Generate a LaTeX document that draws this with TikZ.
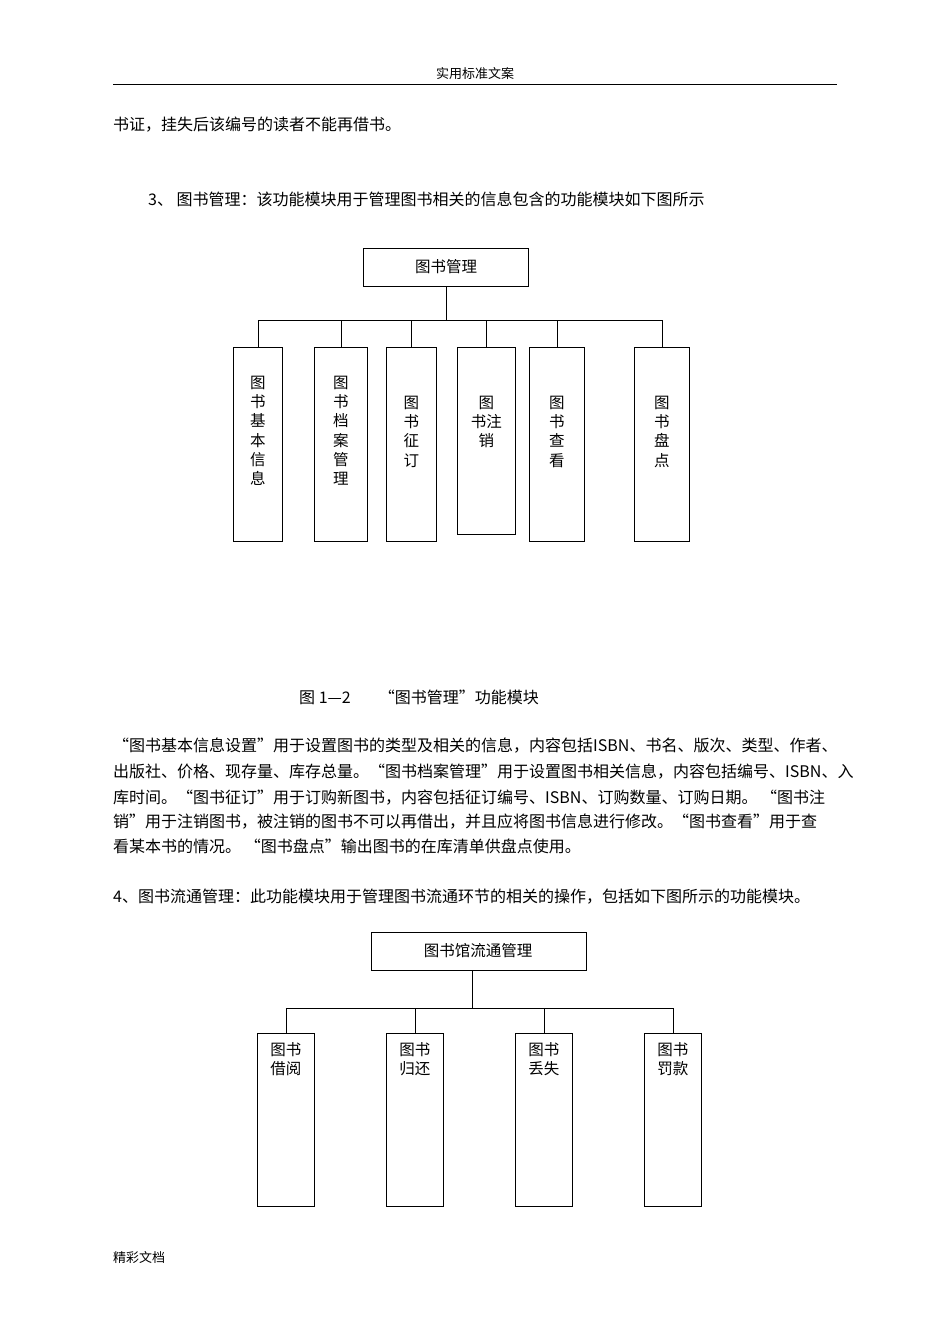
\documentclass[tikz,border=0pt]{standalone}
\usepackage{fontspec}
\setmainfont{Noto Sans CJK SC}
\begin{document}
\begin{tikzpicture}[x=1pt,y=-1pt,
  txt/.style={anchor=west,inner sep=0pt,font=\fontsize{16}{19}\selectfont},
  bx/.style={draw,line width=0.8pt,anchor=north west,inner sep=0pt},
  vt/.style={anchor=north,inner sep=0pt,align=center,font=\fontsize{15.5}{19.2}\selectfont},
  ln/.style={line width=0.8pt}]
\useasboundingbox[fill=white] (0,0) rectangle (950,1344);
\node[inner sep=0pt,font=\fontsize{13}{15}\selectfont] (hdr) at (475,74) {实用标准文案};
\draw[ln] (113,84) -- (837,84);
\node[txt] (t1) at (113,125) {书证，挂失后该编号的读者不能再借书。};
\node[txt] (t2) at (148,199) {3、 图书管理：该功能模块用于管理图书相关的信息包含的功能模块如下图所示};
% tree 1
\node[bx,minimum width=165pt,minimum height=38pt] (r1) at (363,248) {};
\node[vt] at (446,259) {图书管理};
\coordinate (j1) at (446,320);
\draw[ln] (r1.south -| j1) -- (j1);
\foreach \n/\x/\w/\h/\ty/\t in {a/233/49/194/376/{图\\书\\基\\本\\信\\息},
  b/314/53/194/376/{图\\书\\档\\案\\管\\理},
  c/386/50/194/396/{图\\书\\征\\订},
  d/457/58/187/396/{图\\书注\\销},
  e/529/55/194/396/{图\\书\\查\\看},
  f/634/55/194/396/{图\\书\\盘\\点}}{
  \node[bx,minimum width=\w pt,minimum height=\h pt] (\n) at (\x,347) {};
  \node[vt] at (\n.north |- 0,\ty) {\t};
}
\draw[ln] (a.north |- j1) -- (f.north |- j1);
\foreach \n in {a,b,c,d,e,f}{\draw[ln] (\n.north |- j1) -- (\n.north);}
\node[txt] (cap) at (299,697) {图 1—2\hspace{28pt}“图书管理”功能模块};
\node[txt] (p1) at (113,746) {“图书基本信息设置”用于设置图书的类型及相关的信息，内容包括ISBN、书名、版次、类型、作者、};
\node[txt] (p2) at (113,772) {出版社、价格、现存量、库存总量。“图书档案管理”用于设置图书相关信息，内容包括编号、ISBN、入};
\node[txt] (p3) at (113,798) {库时间。“图书征订”用于订购新图书，内容包括征订编号、ISBN、订购数量、订购日期。 “图书注};
\node[txt] (p4) at (113,822) {销”用于注销图书，被注销的图书不可以再借出，并且应将图书信息进行修改。“图书查看”用于查};
\node[txt] (p5) at (113,846) {看某本书的情况。 “图书盘点”输出图书的在库清单供盘点使用。};
\node[txt] (t4) at (113,897) {4、图书流通管理：此功能模块用于管理图书流通环节的相关的操作，包括如下图所示的功能模块。};
% tree 2
\node[bx,minimum width=215pt,minimum height=38pt] (r2) at (371,932) {};
\node[vt] at (478,943) {图书馆流通管理};
\coordinate (j2) at (472,1008);
\draw[ln] (r2.south -| j2) -- (j2);
\foreach \n/\x/\t in {g/257/{图书\\借阅},h/386/{图书\\归还},i/515/{图书\\丢失},k/644/{图书\\罚款}}{
  \node[bx,minimum width=57pt,minimum height=173pt] (\n) at (\x,1033) {};
  \node[vt] at (\n.north |- 0,1042) {\t};
}
\draw[ln] (g.north |- j2) -- (k.north |- j2);
\foreach \n in {g,h,i,k}{\draw[ln] (\n.north |- j2) -- (\n.north);}
\node[txt,font=\fontsize{13}{15}\selectfont] (ft) at (113,1257) {精彩文档};
\end{tikzpicture}
\end{document}
